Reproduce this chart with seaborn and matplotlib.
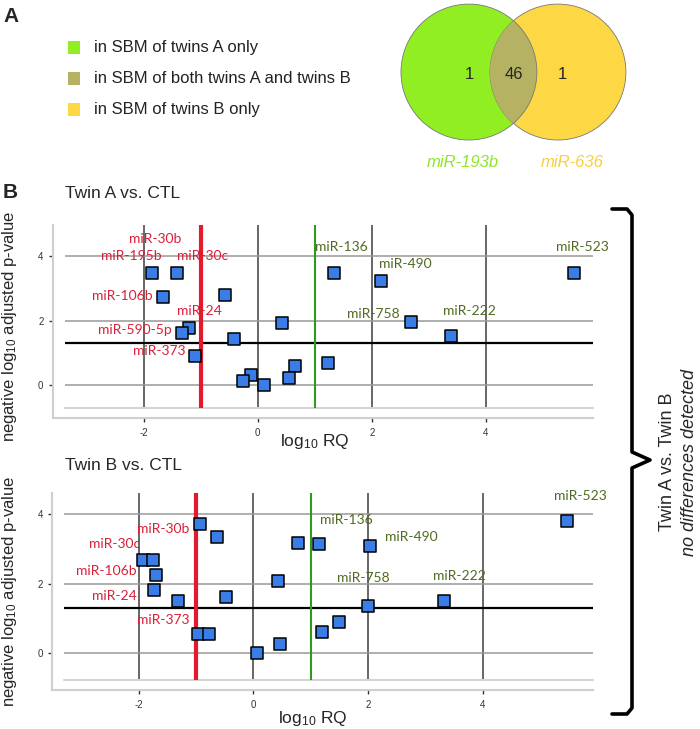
import numpy as np
import pandas as pd
import matplotlib
matplotlib.use('Agg')
import matplotlib.pyplot as plt
import seaborn as sns
from matplotlib.patches import Circle, Rectangle
from matplotlib.lines import Line2D

# --- datos panel A (Venn) ---
venn_counts = [1, 46, 1]          # solo A, ambos, solo B
venn_sets = ['miR-193b', 'miR-636']
legend_labels = ['in SBM of twins A only',
                 'in SBM of both twins A and twins B',
                 'in SBM of twins B only']
col_a, col_both, col_b = '#91ee22', '#b5b263', '#fdd844'

# --- datos panel B: Twin A vs. CTL ---
twinA_rq = [-1.85, -1.41, -1.67, -0.57, -1.20, -1.33, -0.41, -1.10, 0.42, 0.66,
            0.55, 1.24, -0.11, -0.26, 0.11, 1.33, 2.16, 2.69, 3.39, 5.54]
twinA_p = [3.48, 3.48, 2.73, 2.79, 1.76, 1.60, 1.42, 0.90, 1.91, 0.58,
           0.21, 0.67, 0.30, 0.12, -0.01, 3.48, 3.23, 1.95, 1.53, 3.48]
twinA_down = ['miR-30b', 'miR-195b', 'miR-30c', 'miR-106b', 'miR-24', 'miR-590-5p', 'miR-373']
twinA_down_x = [-1.79, -2.22, -0.96, -2.38, -1.03, -2.16, -1.73]
twinA_down_y = [4.52, 4.01, 4.01, 2.77, 2.30, 1.71, 1.05]
twinA_up = ['miR-136', 'miR-490', 'miR-758', 'miR-222', 'miR-523']
twinA_up_x = [1.47, 2.58, 2.02, 3.71, 5.69]
twinA_up_y = [4.28, 3.75, 2.20, 2.29, 4.29]

# --- datos panel B: Twin B vs. CTL ---
twinB_rq = [-0.93, -0.64, -1.92, -1.76, -1.70, -1.74, -1.32, -0.48, -0.96, -0.78,
            0.06, 0.46, 0.43, 0.78, 1.14, 1.19, 1.49, 2.03, 2.00, 3.33, 5.47]
twinB_p = [3.72, 3.33, 2.68, 2.68, 2.26, 1.82, 1.51, 1.62, 0.55, 0.55,
           0.00, 0.27, 2.08, 3.18, 3.13, 0.60, 0.90, 3.09, 1.36, 1.51, 3.81]
twinB_down = ['miR-30b', 'miR-30c', 'miR-106b', 'miR-24', 'miR-373']
twinB_down_x = [-1.58, -2.42, -2.57, -2.42, -1.58]
twinB_down_y = [3.58, 3.15, 2.37, 1.66, 0.96]
twinB_up = ['miR-136', 'miR-490', 'miR-758', 'miR-222', 'miR-523']
twinB_up_x = [1.63, 2.76, 1.92, 3.60, 5.70]
twinB_up_y = [3.82, 3.34, 2.16, 2.22, 4.53]

sns.set_theme(style='ticks')
plt.rcParams['font.family'] = ['Liberation Sans', 'DejaVu Sans']
plt.rcParams['axes.unicode_minus'] = False
plt.rcParams['mathtext.fontset'] = 'custom'
plt.rcParams['mathtext.rm'] = 'Liberation Sans'
plt.rcParams['mathtext.it'] = 'Liberation Sans:italic'

W, H = 700, 729
fig = plt.figure(figsize=(7, 7.29), dpi=100)


def fx(px):
    return px / W


def fy(py):
    return 1 - py / H


# ---------------- Panel A ----------------
fig.text(fx(3), fy(17), 'A', fontsize=15, fontweight='bold', va='center', ha='left')
for i, (lab, c) in enumerate(zip(legend_labels, [col_a, col_both, col_b])):
    yy = 47.5 + 31 * i
    fig.add_artist(Rectangle((fx(68), fy(yy + 6)), 12 / W, 12 / H, transform=fig.transFigure,
                             facecolor=c, edgecolor='none'))
    fig.text(fx(94), fy(yy), lab, fontsize=12, va='center', ha='left', color='#222222')

axv = fig.add_axes([380.6 / W, 1 - 174 / H, 265 / W, 174 / H])
axv.set_xlim(-1.3, 2.6)
axv.set_ylim(-1.5, 1.06)
axv.set_aspect('equal')
axv.axis('off')
d = 1.31
ca = Circle((0, 0), 1, facecolor=col_a, edgecolor='#777777', lw=0.6)
cb = Circle((d, 0), 1, facecolor=col_b, edgecolor='#777777', lw=0.6)
axv.add_patch(ca)
axv.add_patch(cb)
cab = Circle((0, 0), 1, facecolor=col_both, edgecolor='#777777', lw=0.6)
axv.add_patch(cab)
cab.set_clip_path(cb)
axv.text(0, -0.03, str(venn_counts[0]), ha='center', va='center', fontsize=12)
axv.text(d / 2, -0.03, str(venn_counts[1]), ha='center', va='center', fontsize=12)
axv.text(1.38, -0.03, str(venn_counts[2]), ha='center', va='center', fontsize=12)
axv.text(-0.09, -1.33, venn_sets[0], ha='center', va='center', fontsize=12,
         style='italic', color='#8ee628')
axv.text(1.52, -1.33, venn_sets[1], ha='center', va='center', fontsize=12,
         style='italic', color='#f5d040')

# ---------------- Panel B ----------------
fig.text(fx(3), fy(193), 'B', fontsize=15, fontweight='bold', va='center', ha='left')


def volcano(ax, rq, p, down, dx, dy, up, ux, uy, xlim, ylim, title, title_y, xlab_pos, ylab_pos):
    ax.set_xlim(*xlim)
    ax.set_ylim(*ylim)
    for v in [-2, 0, 2, 4]:
        ax.axvline(v, color='#666666', lw=1.4, zorder=1)
    for h in [0, 2, 4]:
        ax.axhline(h, color='#999999', lw=1.1, zorder=1)
    ax.axhline(ylim[0], color='#d4d4d4', lw=1.5, zorder=1, clip_on=False)
    ax.axhline(-np.log10(0.05), color='black', lw=1.6, zorder=2)
    ax.axvline(-1, color='#e5192d', lw=3, zorder=2)
    ax.axvline(1, color='#2e9b1d', lw=1.5, zorder=2)
    df = pd.DataFrame({'rq': rq, 'p': p})
    sns.scatterplot(data=df, x='rq', y='p', marker='s', s=85, color='#3b7de6',
                    edgecolor='black', linewidth=1.1, ax=ax, zorder=3)
    for t, x, y in zip(down, dx, dy):
        ax.text(x, y, t, color='#d8203a', fontsize=10, ha='center', va='center',
                family=['Lato', 'DejaVu Sans'], zorder=4)
    for t, x, y in zip(up, ux, uy):
        ax.text(x, y, t, color='#4f6b22', fontsize=10, ha='center', va='center',
                family=['Lato', 'DejaVu Sans'], zorder=4)
    sns.despine(ax=ax, offset={'left': 8.5, 'bottom': 7.5})
    for s in ['left', 'bottom']:
        ax.spines[s].set_color('#cfcfcf')
        ax.spines[s].set_linewidth(1.5)
    # los ejes se tocan en la esquina, como en el original
    xr = xlim[1] - xlim[0]
    yr = ylim[1] - ylim[0]
    ax.spines['bottom'].set_bounds(xlim[0] - 0.023 * xr, xlim[1])
    ax.spines['left'].set_bounds(ylim[0] - 0.055 * yr, ylim[1])
    ax.set_xticks([-2, 0, 2, 4])
    ax.set_yticks([0, 2, 4])
    ax.tick_params(length=3, width=1, color='#333333', labelsize=7, pad=4, labelcolor='#333333')
    ax.set_xlabel(r'log$_{10}$ RQ', fontsize=12.5)
    ax.xaxis.set_label_coords(*xlab_pos)
    ax.set_ylabel(r'negative log$_{10}$ adjusted p-value', fontsize=12)
    ax.yaxis.set_label_coords(*ylab_pos)
    fig.text(fx(65), fy(title_y), title, fontsize=12.5, va='center', ha='left')


ax1 = fig.add_axes([65 / W, 1 - 408 / H, 528 / W, 183 / H])
volcano(ax1, twinA_rq, twinA_p, twinA_down, twinA_down_x, twinA_down_y,
        twinA_up, twinA_up_x, twinA_up_y, (-3.38, 5.88), (-0.71, 4.96),
        'Twin A vs. CTL', 193, (0.473, -0.13), (-0.087, 0.448))

ax2 = fig.add_axes([64.3 / W, 1 - 680 / H, 529 / W, 186.7 / H])
volcano(ax2, twinB_rq, twinB_p, twinB_down, twinB_down_x, twinB_down_y,
        twinB_up, twinB_up_x, twinB_up_y, (-3.30, 5.93), (-0.77, 4.6),
        'Twin B vs. CTL', 465, (0.47, -0.155), (-0.086, 0.477))

# llave derecha
bx = [612, 627, 632, 632, 650, 632, 632, 627, 612]
by = [209, 209, 215, 452, 460, 468, 708, 714, 714]
fig.add_artist(Line2D([fx(v) for v in bx], [fy(v) for v in by], transform=fig.transFigure,
                      color='black', lw=2.6, solid_joinstyle='round'))
fig.text(fx(668), fy(462), 'Twin A vs. Twin B', rotation=90, fontsize=13,
         ha='center', va='center')
fig.text(fx(690), fy(462), 'no differences detected', rotation=90, fontsize=13,
         ha='center', va='center', style='italic')

fig.savefig('out.png', dpi=100)
